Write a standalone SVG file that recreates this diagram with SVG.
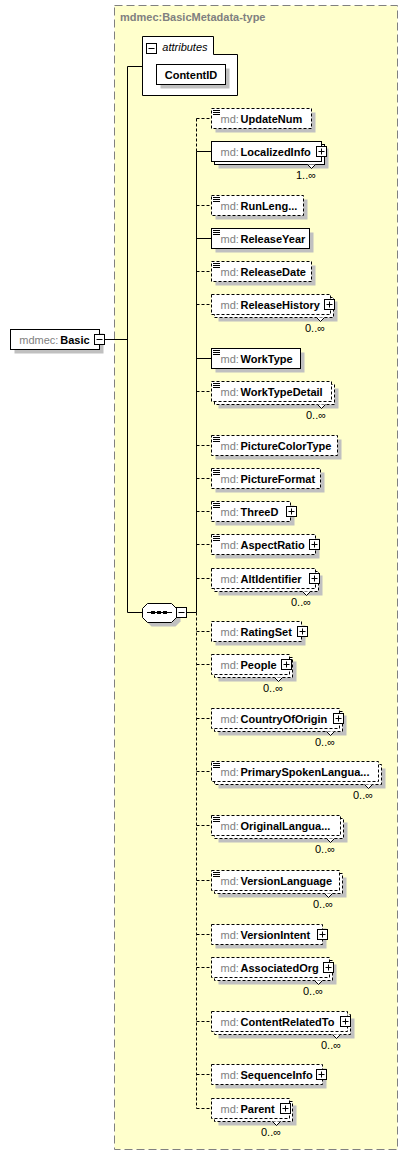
<svg xmlns="http://www.w3.org/2000/svg" xmlns:xlink="http://www.w3.org/1999/xlink" width="408" height="1157" viewBox="0 0 408 1157">
<style>
.bg{fill:#FFFFCC;stroke:#808080;stroke-dasharray:8,4}
.b{fill:#fff;stroke:#000}
.d{stroke-dasharray:3,2}
.s{fill:#C0C0C0}
.c{stroke:#000;fill:none}
.k{fill:#fff;stroke:#000}
text{font-family:"Liberation Sans",Arial,sans-serif;font-size:11px;fill:#000}
.g{fill:#808080}
.n{font-weight:bold;fill:#000}
.ti{font-weight:bold;fill:#808080}
.it{font-style:italic}
</style>
<defs>
<g id="plus"><rect x="-5" y="-5" width="10" height="10" fill="#fff" stroke="#000"/><path d="M-3,0H3M0,-3V3" stroke="#000"/></g>
<g id="minus"><rect x="-5" y="-5" width="10" height="10" fill="#fff" stroke="#000"/><path d="M-3,0H3" stroke="#000"/></g>
<g id="doc"><path d="M0,0.5H7M0,2.5H7M0,4.5H7" stroke="#000"/></g>
</defs>

<g id="type">
<rect class="bg" x="114.5" y="5.5" width="283" height="1144"/>
<text class="ti" x="120" y="20.5">mdmec:BasicMetadata-type</text>
</g>

<g id="connectors">
<path class="c" d="M104.5,339.5H127.5M127.5,66.5V612.5M127.5,66.5H142.5M127.5,612.5H142.5M186.5,612.5H196.5"/>
<path class="c" d="M196.5,151.5V612.5"/>
<path class="c d" d="M196.5,118.5V151.5M196.5,612.5V1108.5"/>
<path class="c" d="M196.5,151.5H211.5M196.5,238.5H211.5M196.5,358.5H211.5"/>
<path class="c d" d="M196.5,118.5H211.5M196.5,205.5H211.5M196.5,271.5H211.5M196.5,304.5H211.5M196.5,391.5H211.5M196.5,445.5H211.5M196.5,478.5H211.5M196.5,511.5H211.5M196.5,544.5H211.5M196.5,578.5H211.5M196.5,631.5H211.5M196.5,664.5H211.5M196.5,718.5H211.5M196.5,771.5H211.5M196.5,825.5H211.5M196.5,880.5H211.5M196.5,934.5H211.5M196.5,967.5H211.5M196.5,1021.5H211.5M196.5,1074.5H211.5M196.5,1108.5H211.5"/>
</g>

<g id="Basic">
<rect class="s" x="14.5" y="333.5" width="89" height="20"/>
<rect class="b" x="10.5" y="329.5" width="89" height="20"/>
<text x="19.3" y="343.5"><tspan class="g">mdmec:</tspan><tspan class="n" x="60.3">Basic</tspan></text>
<use href="#minus" x="99.5" y="339.5"/>
</g>

<g id="attributes">
<path class="b" d="M142.5,36.5H213.5V54.5H237.5V95.5H142.5Z"/>
<use href="#minus" x="151.5" y="48.5"/>
<text class="it" x="162.3" y="51">attributes</text>
<rect class="s" x="160.5" y="68.5" width="69" height="20"/>
<rect class="b" x="156.5" y="64.5" width="69" height="20"/>
<text class="n" x="191" y="78.5" text-anchor="middle">ContentID</text>
</g>

<g id="sequence">
<polygon class="s" points="146.5,612.5 151.5,607.5 175.5,607.5 180.5,612.5 180.5,621.5 175.5,626.5 151.5,626.5 146.5,621.5"/>
<polygon class="b" points="142.5,608.5 147.5,603.5 171.5,603.5 176.5,608.5 176.5,617.5 171.5,622.5 147.5,622.5 142.5,617.5"/>
<path class="c" d="M147,612.5H172"/>
<rect x="151" y="611" width="4" height="3"/><rect x="157" y="611" width="4" height="3"/><rect x="163" y="611" width="4" height="3"/>
<use href="#minus" x="181.5" y="612.5"/>
</g>

<g id="UpdateNum">
<rect class="s" x="215.5" y="112.5" width="100" height="20"/>
<rect class="b d" x="211.5" y="108.5" width="100" height="20"/>
<use href="#doc" x="213" y="110"/>
<text x="220.5" y="122.5"><tspan class="g">md:</tspan><tspan class="n" x="240.5">UpdateNum</tspan></text>
</g>

<g id="LocalizedInfo">
<rect class="s" x="218.5" y="148.5" width="110" height="20"/>
<rect class="b" x="214.5" y="144.5" width="110" height="20"/>
<rect class="b" x="211.5" y="141.5" width="110" height="20"/>
<text x="220.5" y="155.5"><tspan class="g">md:</tspan><tspan class="n" x="240.5">LocalizedInfo</tspan></text>
<use href="#plus" x="321.5" y="151.5"/>
<polyline class="k" points="307.5,164.5 311.5,168.5 315.5,164.5"/>
<text x="296" y="179">1..∞</text>
</g>

<g id="RunLength">
<rect class="s" x="215.5" y="199.5" width="92" height="20"/>
<rect class="b d" x="211.5" y="195.5" width="92" height="20"/>
<use href="#doc" x="213" y="197"/>
<text x="220.5" y="209.5"><tspan class="g">md:</tspan><tspan class="n" x="240.5">RunLeng...</tspan></text>
</g>

<g id="ReleaseYear">
<rect class="s" x="215.5" y="232.5" width="98" height="20"/>
<rect class="b" x="211.5" y="228.5" width="98" height="20"/>
<use href="#doc" x="213" y="230"/>
<text x="220.5" y="242.5"><tspan class="g">md:</tspan><tspan class="n" x="240.5">ReleaseYear</tspan></text>
</g>

<g id="ReleaseDate">
<rect class="s" x="215.5" y="265.5" width="100" height="20"/>
<rect class="b d" x="211.5" y="261.5" width="100" height="20"/>
<use href="#doc" x="213" y="263"/>
<text x="220.5" y="275.5"><tspan class="g">md:</tspan><tspan class="n" x="240.5">ReleaseDate</tspan></text>
</g>

<g id="ReleaseHistory">
<rect class="s" x="218.5" y="301.5" width="119" height="20"/>
<rect class="b d" x="214.5" y="297.5" width="119" height="20"/>
<rect class="b d" x="211.5" y="294.5" width="119" height="20"/>
<text x="220.5" y="308.5"><tspan class="g">md:</tspan><tspan class="n" x="240.5">ReleaseHistory</tspan></text>
<use href="#plus" x="329.5" y="304.5"/>
<polyline class="k" points="316.5,317.5 320.5,321.5 324.5,317.5"/>
<text x="305" y="332">0..∞</text>
</g>

<g id="WorkType">
<rect class="s" x="215.5" y="352.5" width="89" height="20"/>
<rect class="b" x="211.5" y="348.5" width="89" height="20"/>
<use href="#doc" x="213" y="350"/>
<text x="220.5" y="362.5"><tspan class="g">md:</tspan><tspan class="n" x="240.5">WorkType</tspan></text>
</g>

<g id="WorkTypeDetail">
<rect class="s" x="218.5" y="388.5" width="120" height="20"/>
<rect class="b d" x="214.5" y="384.5" width="120" height="20"/>
<rect class="b d" x="211.5" y="381.5" width="120" height="20"/>
<use href="#doc" x="213" y="383"/>
<text x="220.5" y="395.5"><tspan class="g">md:</tspan><tspan class="n" x="240.5">WorkTypeDetail</tspan></text>
<polyline class="k" points="317.5,404.5 321.5,408.5 325.5,404.5"/>
<text x="306" y="419">0..∞</text>
</g>

<g id="PictureColorType">
<rect class="s" x="215.5" y="439.5" width="126" height="20"/>
<rect class="b d" x="211.5" y="435.5" width="126" height="20"/>
<use href="#doc" x="213" y="437"/>
<text x="220.5" y="449.5"><tspan class="g">md:</tspan><tspan class="n" x="240.5">PictureColorType</tspan></text>
</g>

<g id="PictureFormat">
<rect class="s" x="215.5" y="472.5" width="109" height="20"/>
<rect class="b d" x="211.5" y="468.5" width="109" height="20"/>
<use href="#doc" x="213" y="470"/>
<text x="220.5" y="482.5"><tspan class="g">md:</tspan><tspan class="n" x="240.5">PictureFormat</tspan></text>
</g>

<g id="ThreeD">
<rect class="s" x="215.5" y="505.5" width="79" height="20"/>
<rect class="b d" x="211.5" y="501.5" width="79" height="20"/>
<use href="#doc" x="213" y="503"/>
<text x="220.5" y="515.5"><tspan class="g">md:</tspan><tspan class="n" x="240.5">ThreeD</tspan></text>
<use href="#plus" x="291.5" y="511.5"/>
</g>

<g id="AspectRatio">
<rect class="s" x="215.5" y="538.5" width="104" height="20"/>
<rect class="b d" x="211.5" y="534.5" width="104" height="20"/>
<use href="#doc" x="213" y="536"/>
<text x="220.5" y="548.5"><tspan class="g">md:</tspan><tspan class="n" x="240.5">AspectRatio</tspan></text>
<use href="#plus" x="314.5" y="544.5"/>
</g>

<g id="AltIdentifier">
<rect class="s" x="218.5" y="575.5" width="104" height="20"/>
<rect class="b d" x="214.5" y="571.5" width="104" height="20"/>
<rect class="b d" x="211.5" y="568.5" width="104" height="20"/>
<text x="220.5" y="582.5"><tspan class="g">md:</tspan><tspan class="n" x="240.5">AltIdentifier</tspan></text>
<use href="#plus" x="314.5" y="578.5"/>
<polyline class="k" points="302.5,591.5 306.5,595.5 310.5,591.5"/>
<text x="291" y="606">0..∞</text>
</g>

<g id="RatingSet">
<rect class="s" x="215.5" y="625.5" width="90" height="20"/>
<rect class="b d" x="211.5" y="621.5" width="90" height="20"/>
<text x="220.5" y="635.5"><tspan class="g">md:</tspan><tspan class="n" x="240.5">RatingSet</tspan></text>
<use href="#plus" x="302.5" y="631.5"/>
</g>

<g id="People">
<rect class="s" x="218.5" y="661.5" width="78" height="20"/>
<rect class="b d" x="214.5" y="657.5" width="78" height="20"/>
<rect class="b d" x="211.5" y="654.5" width="78" height="20"/>
<text x="220.5" y="668.5"><tspan class="g">md:</tspan><tspan class="n" x="240.5">People</tspan></text>
<use href="#plus" x="286.5" y="664.5"/>
<polyline class="k" points="274.5,677.5 278.5,681.5 282.5,677.5"/>
<text x="263" y="692">0..∞</text>
</g>

<g id="CountryOfOrigin">
<rect class="s" x="218.5" y="715.5" width="128" height="20"/>
<rect class="b d" x="214.5" y="711.5" width="128" height="20"/>
<rect class="b d" x="211.5" y="708.5" width="128" height="20"/>
<text x="220.5" y="722.5"><tspan class="g">md:</tspan><tspan class="n" x="240.5">CountryOfOrigin</tspan></text>
<use href="#plus" x="338.5" y="718.5"/>
<polyline class="k" points="326.5,731.5 330.5,735.5 334.5,731.5"/>
<text x="315" y="746">0..∞</text>
</g>

<g id="PrimarySpokenLanguage">
<rect class="s" x="218.5" y="768.5" width="167" height="20"/>
<rect class="b d" x="214.5" y="764.5" width="167" height="20"/>
<rect class="b d" x="211.5" y="761.5" width="167" height="20"/>
<use href="#doc" x="213" y="763"/>
<text x="220.5" y="775.5"><tspan class="g">md:</tspan><tspan class="n" x="240.5">PrimarySpokenLangua...</tspan></text>
<polyline class="k" points="364.5,784.5 368.5,788.5 372.5,784.5"/>
<text x="353" y="799">0..∞</text>
</g>

<g id="OriginalLanguage">
<rect class="s" x="218.5" y="822.5" width="129" height="20"/>
<rect class="b d" x="214.5" y="818.5" width="129" height="20"/>
<rect class="b d" x="211.5" y="815.5" width="129" height="20"/>
<use href="#doc" x="213" y="817"/>
<text x="220.5" y="829.5"><tspan class="g">md:</tspan><tspan class="n" x="240.5">OriginalLangua...</tspan></text>
<polyline class="k" points="326.5,838.5 330.5,842.5 334.5,838.5"/>
<text x="315" y="853">0..∞</text>
</g>

<g id="VersionLanguage">
<rect class="s" x="218.5" y="877.5" width="128" height="20"/>
<rect class="b d" x="214.5" y="873.5" width="128" height="20"/>
<rect class="b d" x="211.5" y="870.5" width="128" height="20"/>
<use href="#doc" x="213" y="872"/>
<text x="220.5" y="884.5"><tspan class="g">md:</tspan><tspan class="n" x="240.5">VersionLanguage</tspan></text>
<polyline class="k" points="324.5,893.5 328.5,897.5 332.5,893.5"/>
<text x="313" y="908">0..∞</text>
</g>

<g id="VersionIntent">
<rect class="s" x="215.5" y="928.5" width="111" height="20"/>
<rect class="b d" x="211.5" y="924.5" width="111" height="20"/>
<text x="220.5" y="938.5"><tspan class="g">md:</tspan><tspan class="n" x="240.5">VersionIntent</tspan></text>
<use href="#plus" x="322.5" y="934.5"/>
</g>

<g id="AssociatedOrg">
<rect class="s" x="218.5" y="964.5" width="118" height="20"/>
<rect class="b d" x="214.5" y="960.5" width="118" height="20"/>
<rect class="b d" x="211.5" y="957.5" width="118" height="20"/>
<text x="220.5" y="971.5"><tspan class="g">md:</tspan><tspan class="n" x="240.5">AssociatedOrg</tspan></text>
<use href="#plus" x="328.5" y="967.5"/>
<polyline class="k" points="314.5,980.5 318.5,984.5 322.5,980.5"/>
<text x="303" y="995">0..∞</text>
</g>

<g id="ContentRelatedTo">
<rect class="s" x="218.5" y="1018.5" width="136" height="20"/>
<rect class="b d" x="214.5" y="1014.5" width="136" height="20"/>
<rect class="b d" x="211.5" y="1011.5" width="136" height="20"/>
<text x="220.5" y="1025.5"><tspan class="g">md:</tspan><tspan class="n" x="240.5">ContentRelatedTo</tspan></text>
<use href="#plus" x="345.5" y="1021.5"/>
<polyline class="k" points="332.5,1034.5 336.5,1038.5 340.5,1034.5"/>
<text x="321" y="1049">0..∞</text>
</g>

<g id="SequenceInfo">
<rect class="s" x="215.5" y="1068.5" width="111" height="20"/>
<rect class="b d" x="211.5" y="1064.5" width="111" height="20"/>
<text x="220.5" y="1078.5"><tspan class="g">md:</tspan><tspan class="n" x="240.5">SequenceInfo</tspan></text>
<use href="#plus" x="321.5" y="1074.5"/>
</g>

<g id="Parent">
<rect class="s" x="218.5" y="1105.5" width="78" height="20"/>
<rect class="b d" x="214.5" y="1101.5" width="78" height="20"/>
<rect class="b d" x="211.5" y="1098.5" width="78" height="20"/>
<text x="220.5" y="1112.5"><tspan class="g">md:</tspan><tspan class="n" x="240.5">Parent</tspan></text>
<use href="#plus" x="285.5" y="1108.5"/>
<polyline class="k" points="272.5,1121.5 276.5,1125.5 280.5,1121.5"/>
<text x="261" y="1136">0..∞</text>
</g>
</svg>
